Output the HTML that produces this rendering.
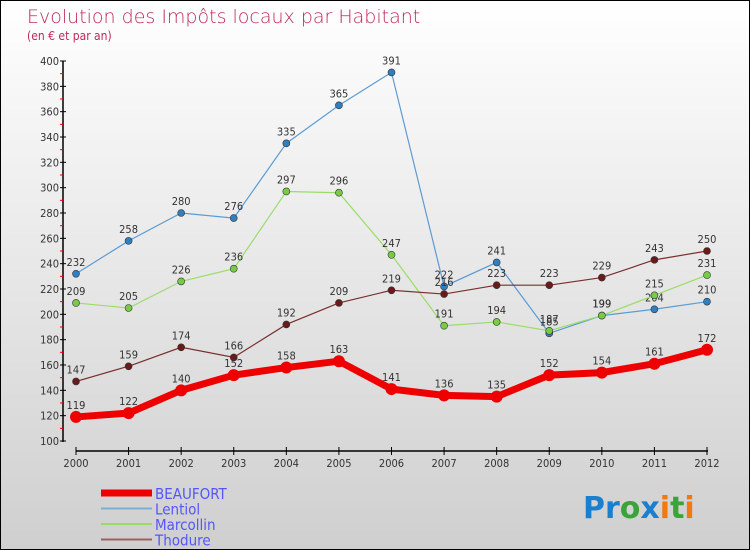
<!DOCTYPE html>
<html><head><meta charset="utf-8"><style>
body{margin:0}
#c{width:748px;height:548px;border:1px solid #000;background:linear-gradient(#fff,#cfcfcf);position:relative;font-family:"DejaVu Sans","Liberation Sans",sans-serif;overflow:hidden}
svg text{font-family:"DejaVu Sans Condensed","DejaVu Sans",sans-serif}
</style></head><body>
<div id="c">
<svg id="s" width="748" height="548">
<text x="26" y="22" font-size="19" fill="#c0285a" style="font-family:'DejaVu Sans',sans-serif;font-weight:200">Evolution des Impôts locaux par Habitant</text>
<text x="26" y="39" font-size="12" fill="#c0285a">(en € et par an)</text>
<g id="axes"></g><g id="series"></g><g id="legend"></g>
<text x="582" y="517" font-size="30" font-weight="bold" style="font-family:'DejaVu Sans',sans-serif"><tspan fill="#1b7fd0">Pr</tspan><tspan fill="#3aa33a">o</tspan><tspan fill="#1b7fd0">x</tspan><tspan fill="#f07a10">i</tspan><tspan fill="#3aa33a">t</tspan><tspan fill="#f07a10">i</tspan></text>
</svg></div>
<script>
const years=[2000,2001,2002,2003,2004,2005,2006,2007,2008,2009,2010,2011,2012];
const beaufort=[119,122,140,152,158,163,141,136,135,152,154,161,172];
const lentiol=[232,258,280,276,335,365,391,222,241,185,199,204,210];
const marcollin=[209,205,226,236,297,296,247,191,194,187,199,215,231];
const thodure=[147,159,174,166,192,209,219,216,223,223,229,243,250];
const yTicks=[100,120,140,160,180,200,220,240,260,280,300,320,340,360,380,400];
const NS="http://www.w3.org/2000/svg";
const X=i=>75+i*(706-75)/12;
const Y=v=>440-(v-100)*380/300;
function mk(t,a,p){const e=document.createElementNS(NS,t);for(const k in a)e.setAttribute(k,a[k]);p.appendChild(e);return e;}
const ax=document.getElementById('axes');
let l=mk('line',{x1:62,y1:60,x2:62,y2:441,stroke:'#000','stroke-width':1.5},ax);


l=mk('line',{x1:75,y1:450,x2:707,y2:450,stroke:'#000','stroke-width':1.5},ax);


yTicks.forEach((v,i)=>{
 mk('line',{x1:59,x2:65,y1:Y(v),y2:Y(v),stroke:'#000'},ax);
 if(i<yTicks.length-1)mk('line',{x1:59,x2:62,y1:Y(v+10),y2:Y(v+10),stroke:'#e00'},ax);
 const t=mk('text',{x:58,y:Y(v)+4,'font-size':11,'text-anchor':'end',fill:'#333'},ax);t.textContent=v;
 
 
});
years.forEach((y,i)=>{
 mk('line',{x1:X(i),x2:X(i),y1:446,y2:454,stroke:'#000'},ax);
 const t=mk('text',{x:X(i),y:466,'font-size':11,'text-anchor':'middle',fill:'#333'},ax);t.textContent=y;
 
 
});
const sg=document.getElementById('series');
const defs=[[lentiol,'#5b9bd5','#2f7fc1',1.2,'lentiol',3.5],[marcollin,'#99dd66','#77cc44',1.2,'marcollin',3.5],[thodure,'#7a2e2e','#6a1a1a',1.2,'thodure',3.5],[beaufort,'#ee0000','#ee0000',7,'beaufort',6]];
defs.forEach(([d,c,mc,w,n,r])=>{
 const g=mk('g',{},sg);
 
 
 const p=mk('polyline',{points:d.map((v,i)=>X(i)+','+Y(v)).join(' '),fill:'none',stroke:c,'stroke-width':w},g);
 
 
 d.forEach((v,i)=>{
  const m=mk('circle',{cx:X(i),cy:Y(v),r:r,fill:mc,stroke:'#333','stroke-width':n=='beaufort'?0:0.6},g);
  
  
  const t=mk('text',{x:X(i),y:Y(v)-8,'font-size':11,'text-anchor':'middle',fill:'#333'},g);t.textContent=v;
  
  
 });
});
const lg=document.getElementById('legend');
const leg=[['BEAUFORT','#ee0000',7],['Lentiol','#7aaed6',2],['Marcollin','#99dd66',2],['Thodure','#9a6060',2]];
leg.forEach(([n,c,w],i)=>{
 const y=492+i*15.5;
 const g=mk('g',{},lg);
 
 
 mk('line',{x1:100,x2:151,y1:y,y2:y,stroke:c,'stroke-width':w},g);
 const t=mk('text',{x:154,y:y+6,'font-size':15,fill:'#5555ff'},g);t.textContent=n;
});
</script>
</body></html>
